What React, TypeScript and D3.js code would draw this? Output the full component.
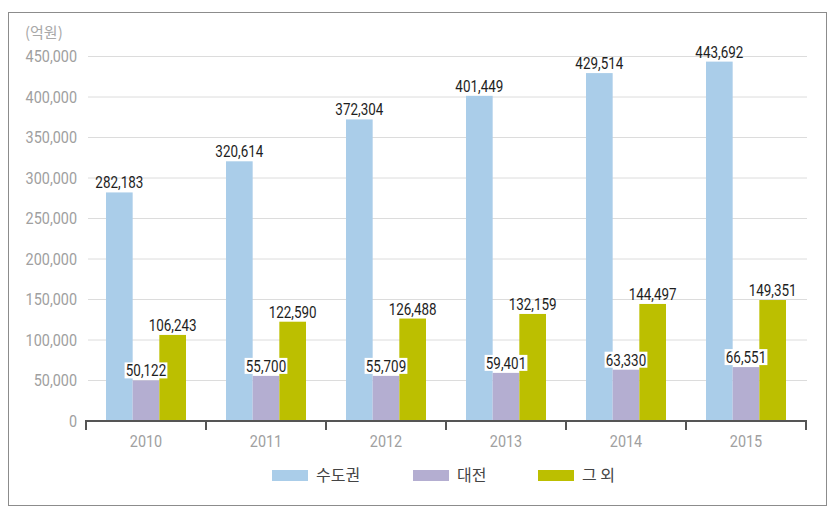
import React from "react";
import * as d3 from "d3";

const years = ["2010", "2011", "2012", "2013", "2014", "2015"];
const seriesNames = ["수도권", "대전", "그 외"];
const capital = [282183, 320614, 372304, 401449, 429514, 443692];
const daejeon = [50122, 55700, 55709, 59401, 63330, 66551];
const others = [106243, 122590, 126488, 132159, 144497, 149351];
const colors = ["#aacde9", "#b4aed1", "#bcbf00"];
const yTicks = [0, 50000, 100000, 150000, 200000, 250000, 300000, 350000, 400000, 450000];

export default function App() {
  const W = 836, H = 531;
  const x0 = d3.scaleBand().domain(years).range([86, 806]).paddingInner(0).paddingOuter(0);
  const x1 = d3.scaleBand().domain(seriesNames).range([0, 80]);
  const y = d3.scaleLinear().domain([0, 450000]).range([421, 56.5]);
  const fmt = d3.format(",");
  const data = [capital, daejeon, others];
  const labelFont = "Roboto, 'Noto Sans', sans-serif";
  const axisFont = "Roboto, 'Noto Sans', sans-serif";
  const off = (x0.bandwidth() - 80) / 2;
  const sx = 0.84;

  return (
    <svg width={W} height={H} style={{ position: "absolute", left: 0, top: 0 }}>
      <rect x={0} y={0} width={W} height={H} fill="#fff" />
      <rect x={8.5} y={12.5} width={818} height={493} fill="#fff" stroke="#8c8c8c" strokeWidth={1} />
      <text x={25} y={38} fontFamily="'Noto Sans CJK KR', sans-serif" fontSize={15} fill="#a8a8a8">(억원)</text>
      {yTicks.map((t) => (
        <g key={t}>
          {t > 0 && <line x1={88} x2={807} y1={y(t)} y2={y(t)} stroke="#dcdcdc" strokeWidth={1} />}
          <text
            transform={`translate(77,${y(t)}) scale(0.9,1)`}
            dy="0.36em"
            textAnchor="end"
            fontFamily={axisFont}
            fontSize={16}
            fill="#a0a0a0"
          >
            {fmt(t)}
          </text>
        </g>
      ))}
      {years.map((yr, i) => (
        <g key={yr} transform={`translate(${x0(yr)! + off},0)`}>
          {seriesNames.map((s, j) => (
            <rect key={s} x={x1(s)} y={y(data[j][i])} width={x1.bandwidth()} height={421 - y(data[j][i])} fill={colors[j]} />
          ))}
        </g>
      ))}
      {years.map((yr, i) => (
        <g key={yr + "l"} transform={`translate(${x0(yr)! + off},0)`}>
          {seriesNames.map((s, j) => {
            const cx = x1(s)! + x1.bandwidth() / 2;
            const ty = y(data[j][i]) - 4;
            const label = fmt(data[j][i]);
            const tw = (label.length - 1) * 9 * sx + 3;
            return (
              <g key={s}>
                {j === 1 && <rect x={cx - tw / 2 - 1} y={ty - 14} width={tw + 2} height={16} fill="#fff" />}
                <text
                  transform={`translate(${cx},${ty}) scale(${sx},1)`}
                  textAnchor="middle"
                  fontFamily={labelFont}
                  fontSize={16}
                  fill="#1e1e1e"
                >
                  {label}
                </text>
              </g>
            );
          })}
        </g>
      ))}
      <path
        d={`M86,430 V421 H806 V430 ${years.slice(1).map((yr) => `M${x0(yr)},421 V430`).join(" ")}`}
        fill="none"
        stroke="#555"
        strokeWidth={2}
      />
      {years.map((yr) => (
        <text
          key={yr + "x"}
          transform={`translate(${x0(yr)! + x0.bandwidth() / 2},447) scale(0.9,1)`}
          textAnchor="middle"
          fontFamily={axisFont}
          fontSize={16}
          fill="#a0a0a0"
        >
          {yr}
        </text>
      ))}
      {seriesNames.map((s, j) => {
        const lx = [272, 413, 538][j];
        return (
          <g key={s + "lg"}>
            <rect x={lx} y={470} width={36} height={11} fill={colors[j]} />
            <text x={lx + 44} y={481} fontFamily="'Noto Sans CJK KR', sans-serif" fontSize={16} fill="#444">
              {s}
            </text>
          </g>
        );
      })}
    </svg>
  );
}
